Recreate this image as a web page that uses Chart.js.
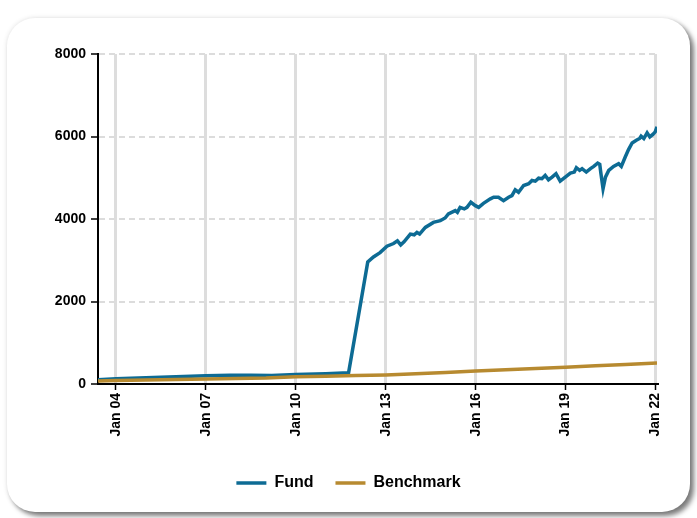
<!DOCTYPE html>
<html><head><meta charset="utf-8">
<script src="https://cdn.jsdelivr.net/npm/chart.js@4.4.1/dist/chart.umd.min.js"></script>
<style>
html,body{margin:0;padding:0;background:#fff;width:697px;height:518px;overflow:hidden;}
#card{position:absolute;left:7px;top:18px;width:683px;height:494px;background:#fff;border-radius:28px;box-shadow:4px 4px 5px rgba(0,0,0,0.5),0 0 5px rgba(0,0,0,0.12);}
#wrap{position:absolute;left:0;top:0;width:697px;height:518px;}
</style></head><body>
<div id="card"></div>
<div id="wrap"><canvas id="c" width="697" height="518"></canvas></div>
<script>
const seriesNames = ['Fund', 'Benchmark'];
const xTickYears = [2004, 2007, 2010, 2013, 2016, 2019, 2022];
const xTickLabels = ['Jan 04', 'Jan 07', 'Jan 10', 'Jan 13', 'Jan 16', 'Jan 19', 'Jan 22'];
const yTicks = [0, 2000, 4000, 6000, 8000];

const fundX = [2003.40, 2004.0, 2005.0, 2006.0, 2007.0, 2007.8, 2008.5, 2009.2, 2010.0, 2011.0, 2011.76,
  2012.40, 2012.59, 2012.81, 2013.04, 2013.26, 2013.39, 2013.50, 2013.61, 2013.82, 2013.95,
  2014.04, 2014.13, 2014.32, 2014.59, 2014.82, 2014.98, 2015.09, 2015.32, 2015.39, 2015.48,
  2015.62, 2015.71, 2015.84, 2015.99, 2016.10, 2016.26, 2016.49, 2016.60, 2016.76, 2016.93,
  2017.10, 2017.21, 2017.32, 2017.43, 2017.60, 2017.77, 2017.88, 2017.99, 2018.10, 2018.21,
  2018.32, 2018.43, 2018.55, 2018.68, 2018.82, 2018.99, 2019.16, 2019.29, 2019.36, 2019.47,
  2019.55, 2019.69, 2019.83, 2019.94, 2020.07, 2020.14, 2020.18, 2020.25, 2020.33, 2020.44,
  2020.60, 2020.77, 2020.86, 2020.99, 2021.10, 2021.22, 2021.36, 2021.47, 2021.52, 2021.61,
  2021.72, 2021.81, 2021.92, 2021.99, 2022.05];
const fundY = [100, 125, 150, 175, 200, 215, 212, 205, 230, 248, 270,
  2958, 3080, 3185, 3340, 3405, 3470, 3373, 3446, 3634, 3617,
  3673, 3634, 3795, 3917, 3958, 4024, 4121, 4202, 4161, 4283,
  4244, 4283, 4405, 4324, 4283, 4380, 4488, 4527, 4527, 4446,
  4527, 4568, 4707, 4649, 4812, 4854, 4934, 4917, 4990, 4976,
  5056, 4951, 5015, 5098, 4917, 5015, 5112, 5137, 5244, 5178,
  5220, 5137, 5220, 5276, 5356, 5324, 5098, 4732, 5015, 5178,
  5276, 5341, 5276, 5502, 5683, 5844, 5910, 5951, 6007, 5951,
  6088, 5990, 6056, 6112, 6234];

const benchX = [2003.40, 2004, 2005, 2006, 2007, 2008, 2009, 2010, 2011, 2012, 2013, 2014, 2015, 2016, 2017, 2018, 2019, 2020, 2021, 2022.05];
const benchY = [75, 82, 95, 108, 122, 135, 145, 175, 190, 205, 220, 250, 280, 315, 345, 375, 405, 440, 470, 510];

const fundColor = '#0d6b94';
const benchColor = '#b78a30';
const fontFamily = 'Arial, "Liberation Sans", sans-serif';

const fundPts = fundX.map((x, i) => ({x: x, y: fundY[i]}));
const benchPts = benchX.map((x, i) => ({x: x, y: benchY[i]}));

new Chart(document.getElementById('c'), {
  type: 'line',
  data: {
    datasets: [
      {label: seriesNames[0], data: fundPts, borderColor: fundColor, backgroundColor: fundColor, borderWidth: 3.5, pointRadius: 0, tension: 0, order: 1},
      {label: seriesNames[1], data: benchPts, borderColor: benchColor, backgroundColor: benchColor, borderWidth: 3.5, pointRadius: 0, tension: 0, order: 0}
    ]
  },
  options: {
    responsive: false,
    animation: false,
    devicePixelRatio: 1,
    layout: {padding: {left: 0, right: 0, top: 54, bottom: 17}},
    plugins: {
      legend: {
        position: 'bottom',
        labels: {
          usePointStyle: true, pointStyle: 'line', pointStyleWidth: 30, padding: 22,
          color: '#000', font: {family: fontFamily, size: 16, weight: 'bold'},
          sort: (a, b) => a.datasetIndex - b.datasetIndex
        }
      },
      tooltip: {enabled: false}
    },
    scales: {
      x: {
        type: 'linear', min: 2003.4, max: 2022.05,
        afterFit: s => { s.height = 69; },
        afterBuildTicks: s => { s.ticks = xTickYears.map(v => ({value: v})); },
        ticks: {
          autoSkip: false, minRotation: 90, maxRotation: 90, padding: 3, color: '#000',
          font: {family: fontFamily, size: 14, weight: 'bold'},
          callback: v => xTickLabels[xTickYears.indexOf(v)]
        },
        grid: {color: '#dddddd', lineWidth: 3, tickColor: '#000', tickLength: 6, tickWidth: 1.5, tickBorderDash: []},
        border: {color: '#000', width: 2}
      },
      y: {
        min: 0, max: 8000,
        afterFit: s => { s.width = 98; },
        afterBuildTicks: s => { s.ticks = yTicks.map(v => ({value: v})); },
        ticks: {padding: 5, color: '#000', font: {family: fontFamily, size: 14, weight: 'bold'}, callback: v => String(v)},
        grid: {color: '#dcdcdc', lineWidth: 2, tickColor: '#000', tickLength: 7, tickWidth: 1.5, tickBorderDash: []},
        border: {color: '#000', width: 2, dash: [6, 4]}
      },
      yRight: {
        position: 'right', display: true,
        afterFit: s => { s.width = 40; },
        ticks: {display: false},
        grid: {display: false, drawTicks: false},
        border: {display: false}
      }
    }
  }
});
</script>
</body></html>
